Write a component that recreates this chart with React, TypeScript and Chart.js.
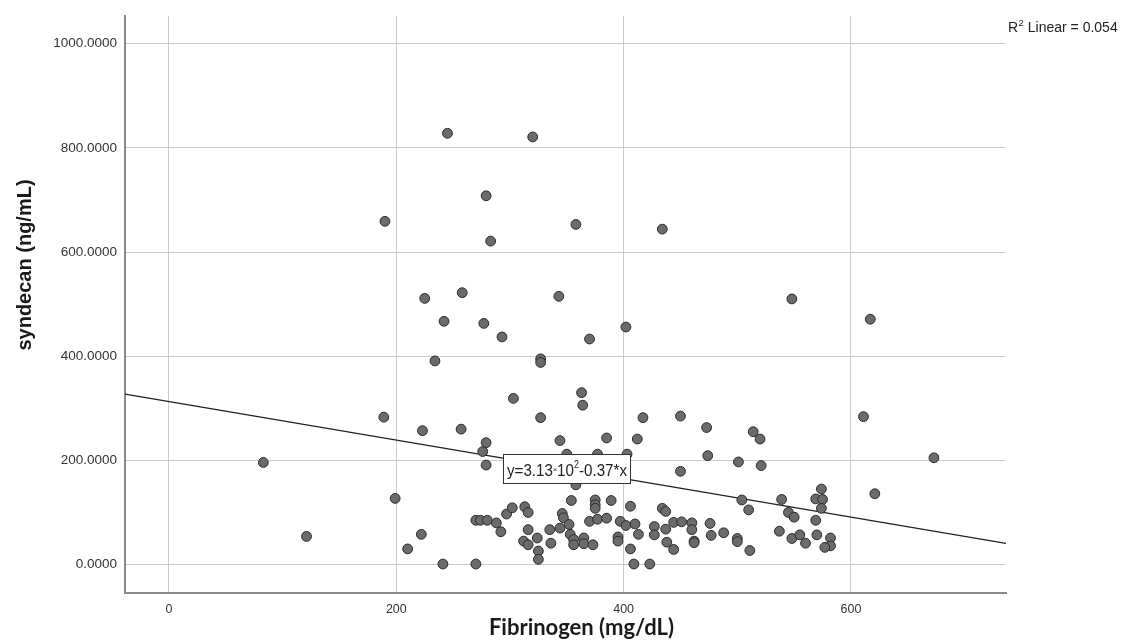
import React, { useEffect, useRef } from "react";
import { Chart, registerables } from "chart.js";

Chart.register(...registerables);

// ---- data ----
const fibrinogen = [
  245, 320, 279, 190, 358, 283, 434, 225, 258, 343, 548, 242, 277, 617, 293, 402, 370, 234, 327, 327,
  303, 363, 364, 189, 223, 257, 279, 276, 279, 83, 327, 417, 450, 473, 611, 514, 520, 344, 385, 412,
  474, 501, 521, 673, 450, 350, 377, 403, 358,
  121, 199, 210, 222, 241, 270, 270, 274, 280, 288, 292, 297, 302, 313, 316, 316, 312, 316, 324, 325,
  325, 336, 335, 344, 346, 347, 352, 353, 356, 356, 365, 365, 373, 354, 370, 377, 385, 375, 375, 375,
  389, 397, 395, 395, 402, 406, 410, 413, 406, 409, 423, 427, 427, 434, 437, 437, 438, 444, 444, 451,
  460, 460, 462, 462, 476, 477, 488, 500, 500, 511, 504, 510, 537, 539, 545, 550, 548, 555, 560, 569,
  574, 575, 574, 569, 570, 582, 582, 577, 621,
];
const syndecan = [
  828, 821, 708, 659, 653, 621, 644, 511, 522, 515, 510, 467, 463, 471, 437, 456, 433, 391, 395, 388,
  319, 330, 306, 283, 257, 260, 234, 217, 191, 196, 282, 282, 285, 263, 284, 255, 241, 238, 243, 241,
  209, 197, 190, 205, 179, 212, 212, 212, 153,
  54, 127, 30, 58, 1, 1, 85, 85, 85, 80, 63, 97, 109, 111, 100, 67, 45, 38, 51, 26,
  10, 41, 67, 70, 98, 90, 77, 58, 48, 38, 51, 40, 38, 123, 83, 87, 89, 124, 115, 108,
  123, 83, 53, 45, 75, 112, 78, 58, 30, 1, 1, 73, 57, 108, 102, 68, 43, 29, 81, 82,
  80, 67, 45, 42, 79, 56, 61, 50, 44, 27, 124, 105, 64, 125, 100, 91, 50, 57, 41, 126,
  145, 125, 108, 85, 57, 51, 36, 33, 136,
];
const xTickValues = [0, 200, 400, 600];
const yTickValues = [0, 200, 400, 600, 800, 1000];
const fitLineX = [-38.7, 736.4];
const fitLineY = [327.3, 40.5];

const xAxisTitle = "Fibrinogen (mg/dL)";
const yAxisTitle = "syndecan (ng/mL)";
const r2Parts = ["R", "2", " Linear = 0.054"];
const equationParts = ["y=3.13", "\u00d7", "10", "2", "-0.37*x"];
// equation box anchor (top-left corner, data units)
const eqAnchorX = 294.3;
const eqAnchorY = 211.8;

const X_MIN = -38.7;
const X_MAX = 736.4;
const Y_MIN = -54.6;
const Y_MAX = 1053;

const overlayPlugin = {
  id: "overlay",
  afterDatasetsDraw(chart: any) {
    const ctx = chart.ctx as CanvasRenderingContext2D;
    const xs = chart.scales.x;
    const ys = chart.scales.y;
    const left = xs.getPixelForValue(eqAnchorX);
    const top = ys.getPixelForValue(eqAnchorY);
    const w = 127;
    const h = 29;
    ctx.save();
    ctx.fillStyle = "#ffffff";
    ctx.fillRect(left, top, w, h);
    ctx.strokeStyle = "#333333";
    ctx.lineWidth = 1;
    ctx.strokeRect(Math.round(left) + 0.5, Math.round(top) + 0.5, w, h);
    const fam = '"Liberation Sans", Arial, sans-serif';
    const pieces = [
      { t: equationParts[0], s: 17, dy: 0 },
      { t: equationParts[1], s: 8, dy: -4 },
      { t: equationParts[2], s: 17, dy: 0 },
      { t: equationParts[3], s: 10, dy: -8 },
      { t: equationParts[4], s: 17, dy: 0 },
    ];
    let total = 0;
    for (const p of pieces) {
      ctx.font = `${p.s}px ${fam}`;
      total += ctx.measureText(p.t).width;
    }
    const target = 120;
    const sx = target / total;
    ctx.translate(left + 3.5, top + 22);
    ctx.scale(sx, 1);
    ctx.fillStyle = "#222222";
    ctx.textBaseline = "alphabetic";
    let cx = 0;
    for (const p of pieces) {
      ctx.font = `${p.s}px ${fam}`;
      ctx.fillText(p.t, cx, p.dy);
      cx += ctx.measureText(p.t).width;
    }
    ctx.restore();
  },
  afterDraw(chart: any) {
    const ctx = chart.ctx as CanvasRenderingContext2D;
    const area = chart.chartArea;
    ctx.save();
    ctx.fillStyle = "#1a1a1a";
    // y axis title
    ctx.save();
    ctx.translate(25, 265);
    ctx.rotate(-Math.PI / 2);
    ctx.textAlign = "center";
    ctx.textBaseline = "middle";
    ctx.font = 'bold 20px "Liberation Sans", Arial, sans-serif';
    ctx.fillText(yAxisTitle, 0, 0);
    ctx.restore();
    // x axis title
    ctx.textAlign = "center";
    ctx.textBaseline = "alphabetic";
    ctx.font = 'bold 22px Lato, "Liberation Sans", sans-serif';
    ctx.fillText(xAxisTitle, (area.left + area.right) / 2 + 16, 635);
    // R2 label
    ctx.textAlign = "left";
    let x0 = area.right + 2;
    const base = 32;
    ctx.fillStyle = "#222222";
    ctx.font = '14px "Liberation Sans", Arial, sans-serif';
    ctx.fillText(r2Parts[0], x0, base);
    x0 += ctx.measureText(r2Parts[0]).width + 0.5;
    ctx.font = '9.5px "Liberation Sans", Arial, sans-serif';
    ctx.fillText(r2Parts[1], x0, base - 6);
    x0 += ctx.measureText(r2Parts[1]).width;
    ctx.font = '14px "Liberation Sans", Arial, sans-serif';
    ctx.fillText(r2Parts[2], x0, base);
    ctx.restore();
  },
};

export default function App() {
  const canvasRef = useRef<HTMLCanvasElement | null>(null);

  useEffect(() => {
    const canvas = canvasRef.current;
    if (!canvas) return;
    const points = fibrinogen.map((x, i) => ({ x, y: syndecan[i] }));
    const fit = fitLineX.map((x, i) => ({ x, y: fitLineY[i] }));
    const chart = new Chart(canvas, {
      type: "scatter",
      data: {
        datasets: [
          {
            label: "syndecan",
            data: points,
            pointRadius: 4.9,
            pointBackgroundColor: "#6b6b6b",
            pointBorderColor: "#2a2a2a",
            pointBorderWidth: 1,
            showLine: false,
            order: 1,
          },
          {
            label: "fit",
            data: fit,
            showLine: true,
            pointRadius: 0,
            borderColor: "#1e1e1e",
            borderWidth: 1.2,
            fill: false,
            order: 2,
          } as any,
        ],
      },
      options: {
        animation: false,
        responsive: true,
        maintainAspectRatio: false,
        layout: { padding: { top: 15, right: 122, bottom: 0, left: 0 } },
        plugins: {
          legend: { display: false },
          tooltip: { enabled: false },
          title: { display: false },
        },
        scales: {
          x: {
            type: "linear",
            min: X_MIN,
            max: X_MAX,
            afterBuildTicks: (s: any) => {
              s.ticks = xTickValues.map((v) => ({ value: v }));
            },
            afterFit: (s: any) => {
              s.height = 51;
            },
            grid: { color: "#cacaca", lineWidth: 1, drawTicks: false },
            border: { display: true, color: "#8a8a8a", width: 2 },
            ticks: {
              padding: 9,
              color: "#333333",
              font: { family: '"Liberation Sans", Arial, sans-serif', size: 12.5 },
              callback: (v: any) => String(v),
              maxRotation: 0,
            },
          },
          y: {
            type: "linear",
            min: Y_MIN,
            max: Y_MAX,
            afterBuildTicks: (s: any) => {
              s.ticks = yTickValues.map((v) => ({ value: v }));
            },
            afterFit: (s: any) => {
              s.width = 125;
            },
            grid: { color: "#cacaca", lineWidth: 1, drawTicks: false },
            border: { display: true, color: "#8a8a8a", width: 2 },
            ticks: {
              padding: 8,
              color: "#333333",
              font: { family: '"Liberation Sans", Arial, sans-serif', size: 13.5 },
              callback: (v: any) => Number(v).toFixed(4),
            },
          },
        },
      },
      plugins: [overlayPlugin],
    });
    return () => chart.destroy();
  }, []);

  return (
    <div style={{ position: "absolute", left: 0, top: 0, width: 1128, height: 644, background: "#ffffff" }}>
      <canvas ref={canvasRef} />
    </div>
  );
}
